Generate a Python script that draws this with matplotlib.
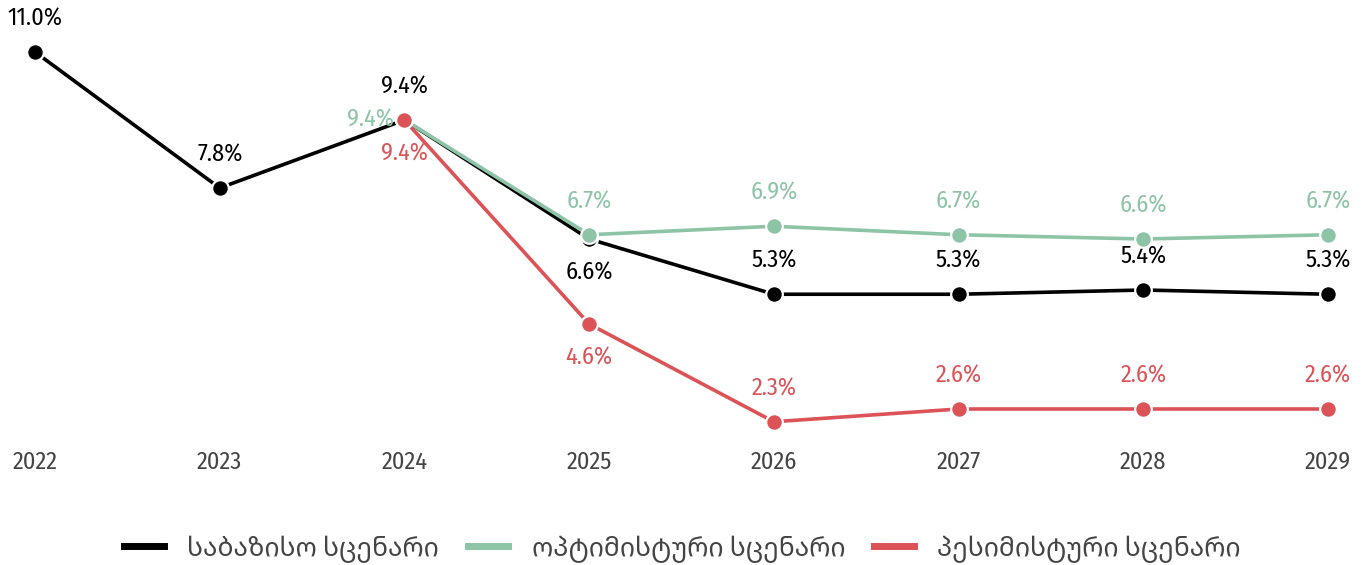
import matplotlib.pyplot as plt
from matplotlib.lines import Line2D

# -----------------------------
# Data
# -----------------------------
YEARS = [2022, 2023, 2024, 2025, 2026, 2027, 2028, 2029]
BASE = [11.0, 7.8, 9.4, 6.6, 5.3, 5.3, 5.4, 5.3]
OPT_YEARS = [2024, 2025, 2026, 2027, 2028, 2029]
OPT = [9.4, 6.7, 6.9, 6.7, 6.6, 6.7]
PES_YEARS = [2024, 2025, 2026, 2027, 2028, 2029]
PES = [9.4, 4.6, 2.3, 2.6, 2.6, 2.6]

LABELS = ["საბაზისო სცენარი", "ოპტიმისტური სცენარი", "პესიმისტური სცენარი"]

# label side per point: "up", "down", "left"
BASE_POS = ["up", "up", "up", "down", "up", "up", "up", "up"]
OPT_POS = ["left", "up", "up", "up", "up", "up"]
PES_POS = ["down", "down", "up", "up", "up", "up"]

# -----------------------------
# Style
# -----------------------------
BLACK = "#000000"
GREEN = "#8DC4A6"
RED = "#DC5357"
TICK_GREY = "#444444"
FONT = ["Fira Sans Condensed", "Noto Sans Georgian", "DejaVu Sans"]

fig = plt.figure(figsize=(13.65, 5.65), dpi=100)
W, H = 1365, 565
x0, x1 = 35, 1328
y_top, y_bot = 52, 421.75
ax = fig.add_axes([x0 / W, 1 - y_bot / H, (x1 - x0) / W, (y_bot - y_top) / H])
ax.set_xlim(2022, 2029)
ax.set_ylim(2.3, 11.0)


def draw(xs, ys, color, pos, z):
    ax.plot(xs, ys, color=color, lw=2.6, zorder=z, clip_on=False,
            solid_capstyle="butt")
    ax.plot(xs, ys, "o", color=color, ms=12, mec="white", mew=1.6,
            zorder=z + 0.5, clip_on=False)
    for x, y, p in zip(xs, ys, pos):
        if p == "up":
            off, ha, va = (0, 33), "center", "center"
        elif p == "down":
            off, ha, va = (0, -34), "center", "center"
        else:
            off, ha, va = (-11, 0), "right", "center"
        ax.annotate(f"{y:.1f}%", (x, y), xytext=off, textcoords="offset pixels",
                    ha=ha, va=va, fontsize=17.5, color=color, family=FONT,
                    zorder=z + 1, annotation_clip=False)


draw(YEARS, BASE, BLACK, BASE_POS, 2)
draw(OPT_YEARS, OPT, GREEN, OPT_POS, 4)
draw(PES_YEARS, PES, RED, PES_POS, 6)

ax.set_xticks(YEARS)
ax.set_xticklabels([str(y) for y in YEARS], family=FONT, fontsize=17.5,
                   color=TICK_GREY)
ax.tick_params(axis="x", length=0, pad=21)
ax.set_yticks([])
for s in ax.spines.values():
    s.set_visible(False)
ax.patch.set_alpha(0)

handles = [Line2D([], [], color=c, lw=5) for c in (BLACK, GREEN, RED)]
fig.legend(handles, LABELS, loc="center", bbox_to_anchor=(0.5, 1 - 549 / H),
           ncol=3, frameon=False, handlelength=1.5, handletextpad=0.9,
           columnspacing=1.1,
           prop={"family": FONT, "size": 19},
           labelcolor=TICK_GREY)

fig.savefig("out.png", dpi=100)
